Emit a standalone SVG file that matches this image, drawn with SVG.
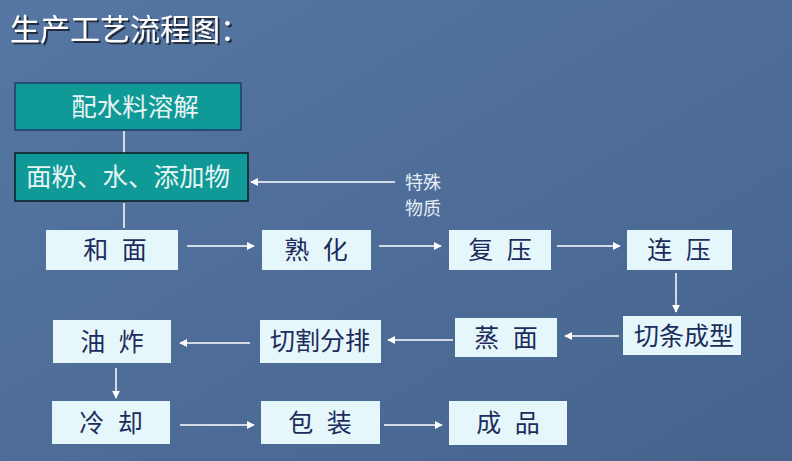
<svg xmlns="http://www.w3.org/2000/svg" width="792" height="461" viewBox="0 0 792 461">
<defs>
<linearGradient id="bg" x1="0" y1="0" x2="1" y2="1">
<stop offset="0" stop-color="#5677a3"/>
<stop offset="1" stop-color="#45638d"/>
</linearGradient>
<filter id="sh" x="-10%" y="-10%" width="130%" height="140%">
<feDropShadow dx="2" dy="2" stdDeviation="0.6" flood-color="#1a2230" flood-opacity="0.9"/>
</filter>
<marker id="ah" viewBox="0 0 10 10" refX="9" refY="5" markerWidth="8" markerHeight="8" markerUnits="userSpaceOnUse" orient="auto">
<path d="M0,0 L10,5 L0,10 Z" fill="#ffffff"/>
</marker>
<style>
.t{font-family:"Noto Sans CJK SC","Noto Sans CJK JP",sans-serif;}
.box{fill:#e6f7fb;}
.bt{font-family:"Noto Sans CJK SC",sans-serif;font-size:25px;fill:#1c2c5c;text-anchor:middle;word-spacing:8px;}
.tb{fill:#0f9a98;}
.tt{font-family:"Noto Sans CJK SC",sans-serif;font-size:25.5px;fill:#e8f4f4;}
.c{stroke:#ffffff;stroke-width:1.5;fill:none;}
.ca{stroke:#ffffff;stroke-width:1.5;fill:none;marker-end:url(#ah);}
</style>
</defs>
<rect width="792" height="461" fill="url(#bg)"/>
<text x="10" y="40" class="t" font-size="30" fill="#ffffff" filter="url(#sh)">生产工艺流程图：</text>

<g id="connectors">
<line class="c" x1="124" y1="131" x2="124" y2="153"/>
<line class="c" x1="124" y1="203" x2="124" y2="228"/>
<line class="ca" x1="395" y1="182" x2="251" y2="182"/>
<line class="ca" x1="187" y1="246" x2="254" y2="246"/>
<line class="ca" x1="379" y1="246" x2="441" y2="246"/>
<line class="ca" x1="557" y1="246" x2="620" y2="246"/>
<line class="ca" x1="676" y1="273" x2="676" y2="312"/>
<line class="ca" x1="619" y1="336" x2="565" y2="336"/>
<line class="ca" x1="453" y1="340" x2="388" y2="340"/>
<line class="ca" x1="250" y1="343" x2="180" y2="343"/>
<line class="ca" x1="116" y1="368" x2="116" y2="398"/>
<line class="ca" x1="180" y1="425" x2="254" y2="425"/>
<line class="ca" x1="384" y1="425" x2="442" y2="425"/>
</g>

<g id="n-pei">
<rect x="15" y="83" width="226" height="47" class="tb" stroke="#1d3d6a" stroke-width="1.5"/>
<text x="135" y="116" class="tt" text-anchor="middle">配水料溶解</text>
</g>
<g id="n-mianfen">
<rect x="15" y="153" width="233" height="48" class="tb" stroke="#101820" stroke-width="1.5"/>
<text x="26" y="186" class="tt">面粉、水、添加物</text>
</g>
<g id="n-teshu">
<text x="405" y="189" class="t" font-size="18" fill="#e6eef6">特殊</text>
<text x="405" y="215" class="t" font-size="18" fill="#e6eef6">物质</text>
</g>

<g id="n-hemian"><rect x="46" y="230" width="132" height="40" class="box"/><text x="115" y="259" class="bt">和 面</text></g>
<g id="n-shuhua"><rect x="262" y="230" width="109" height="40" class="box"/><text x="316" y="259" class="bt">熟 化</text></g>
<g id="n-fuya"><rect x="449" y="230" width="102" height="40" class="box"/><text x="500" y="259" class="bt">复 压</text></g>
<g id="n-lianya"><rect x="627" y="230" width="105" height="40" class="box"/><text x="679" y="259" class="bt">连 压</text></g>

<g id="n-qietiao"><rect x="623" y="316" width="118" height="39" class="box"/><text x="684" y="345" class="bt">切条成型</text></g>
<g id="n-zhengmian"><rect x="455" y="318" width="102" height="39" class="box"/><text x="506" y="347" class="bt">蒸 面</text></g>
<g id="n-qiege"><rect x="260" y="320" width="121" height="43" class="box"/><text x="320" y="350" class="bt">切割分排</text></g>
<g id="n-youzha"><rect x="53" y="320" width="118" height="43" class="box"/><text x="112" y="351" class="bt">油 炸</text></g>

<g id="n-lengque"><rect x="52" y="401" width="118" height="43" class="box"/><text x="111" y="432" class="bt">冷 却</text></g>
<g id="n-baozhuang"><rect x="261" y="401" width="119" height="43" class="box"/><text x="320" y="432" class="bt">包 装</text></g>
<g id="n-chengpin"><rect x="449" y="401" width="118" height="44" class="box"/><text x="508" y="432" class="bt">成 品</text></g>
</svg>
